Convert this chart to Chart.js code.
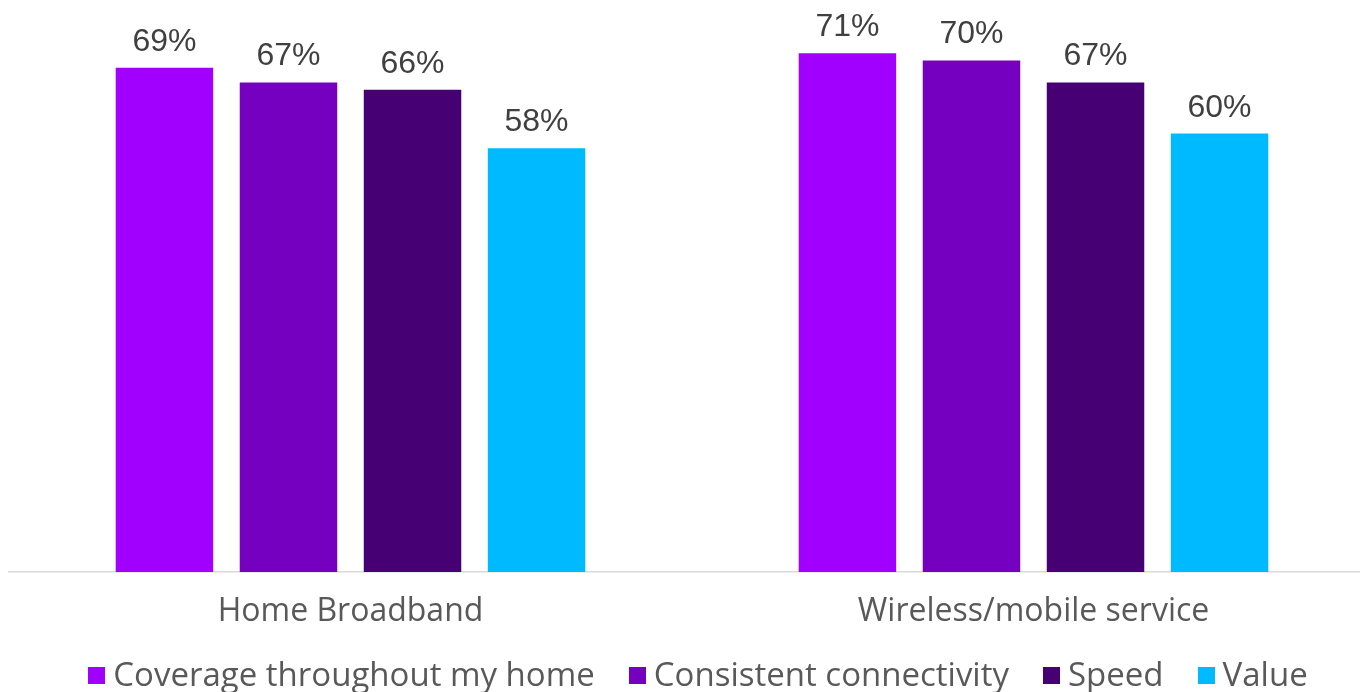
<!DOCTYPE html>
<html>
<head>
<meta charset="utf-8">
<title>Home Broadband vs Wireless/mobile service</title>
<script src="https://cdn.jsdelivr.net/npm/chart.js@4/dist/chart.umd.min.js"></script>
<style>
  html, body { margin: 0; padding: 0; background: #ffffff; overflow: hidden; }
  #page { position: relative; width: 1360px; height: 692px; overflow: hidden; }
  #wrap { position: absolute; left: 0; top: 0; width: 1380px; height: 668px; }
  #legend {
    position: absolute; left: 0; top: 655px; width: 1396px; height: 38px;
    display: flex; justify-content: center; align-items: center; gap: 34px;
    font-family: "Open Sans", sans-serif; font-size: 33px; line-height: 38px;
    color: #595959; white-space: nowrap;
  }
  #legend .item { display: flex; align-items: center; }
  #legend .swatch { width: 17px; height: 17px; margin-right: 8px; margin-top: 3px; flex: none; }
</style>
</head>
<body>
<div id="page">
  <div id="wrap"><canvas id="chart"></canvas></div>
  <div id="legend"></div>
</div>
<script>
// Service categories on the x axis
const categories = ['Home Broadband', 'Wireless/mobile service'];

// Share of respondents (%) per attribute
const seriesNames = ['Coverage throughout my home', 'Consistent connectivity', 'Speed', 'Value'];
const coverage = [69, 71];
const consistency = [67, 70];
const speed = [66, 67];
const valueScores = [58, 60];

const seriesColors = ['#A100FF', '#7500C0', '#460073', '#00BAFF'];
const seriesValues = [coverage, consistency, speed, valueScores];

// Percentage labels above each bar
const barValueLabels = {
  id: 'barValueLabels',
  afterDatasetsDraw(chart) {
    const ctx = chart.ctx;
    ctx.save();
    ctx.font = '32px "Liberation Sans", Arial, sans-serif';
    ctx.fillStyle = '#404040';
    ctx.textAlign = 'center';
    ctx.textBaseline = 'alphabetic';
    chart.data.datasets.forEach((ds, i) => {
      const meta = chart.getDatasetMeta(i);
      meta.data.forEach((bar, j) => {
        ctx.fillText(ds.data[j] + '%', bar.x, bar.y - 17);
      });
    });
    ctx.restore();
  }
};

// HTML legend built from the chart's datasets
const htmlLegend = {
  id: 'htmlLegend',
  afterUpdate(chart) {
    const box = document.getElementById('legend');
    box.innerHTML = '';
    chart.data.datasets.forEach((ds) => {
      const item = document.createElement('div');
      item.className = 'item';
      const sw = document.createElement('span');
      sw.className = 'swatch';
      sw.style.background = ds.backgroundColor;
      const txt = document.createElement('span');
      txt.textContent = ds.label;
      item.appendChild(sw);
      item.appendChild(txt);
      box.appendChild(item);
    });
  }
};

new Chart(document.getElementById('chart'), {
  type: 'bar',
  data: {
    labels: categories,
    datasets: seriesNames.map((name, i) => ({
      label: name,
      data: seriesValues[i],
      backgroundColor: seriesColors[i],
      borderWidth: 0,
      categoryPercentage: 0.7264,
      barPercentage: 0.786
    }))
  },
  options: {
    responsive: true,
    maintainAspectRatio: false,
    animation: false,
    layout: { padding: { top: 2, left: 9, right: 5, bottom: 16 } },
    scales: {
      x: {
        grid: { display: false, drawTicks: false },
        border: { display: true, color: '#d9d9d9', width: 1.5 },
        ticks: {
          padding: 20.8,
          color: '#595959',
          font: { family: '"Open Sans", sans-serif', size: 32, lineHeight: 1.2 }
        }
      },
      y: {
        display: false,
        min: 0,
        max: 78
      }
    },
    plugins: {
      tooltip: { enabled: false },
      legend: { display: false }
    }
  },
  plugins: [barValueLabels, htmlLegend]
});
</script>
</body>
</html>
